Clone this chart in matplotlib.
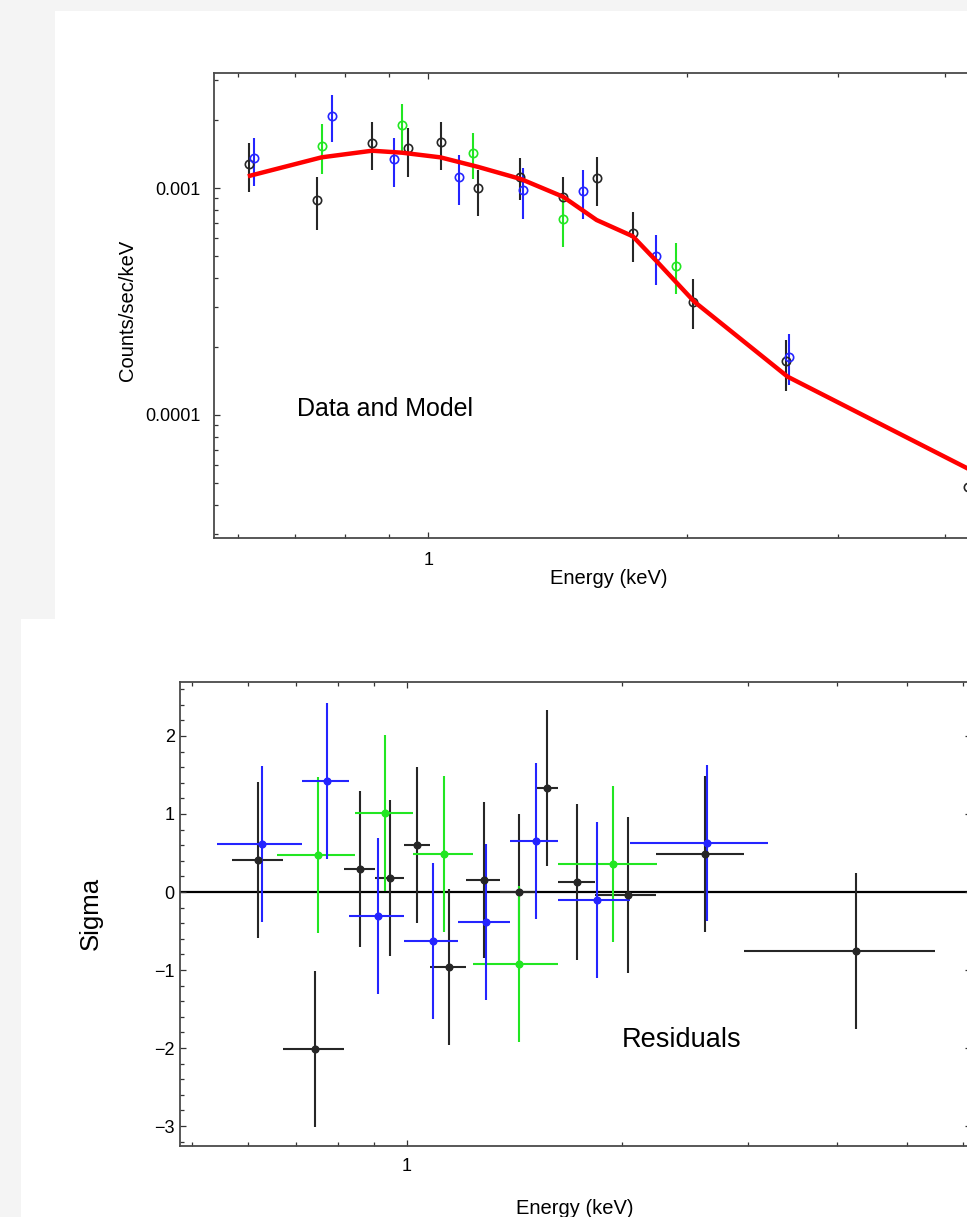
import numpy as np
import matplotlib
matplotlib.use("Agg")
import matplotlib.pyplot as plt
from matplotlib.patches import Rectangle
from matplotlib.ticker import FixedLocator, FuncFormatter, NullFormatter, LogLocator, MultipleLocator

plt.rcParams['font.family'] = ['Liberation Sans', 'DejaVu Sans']

# ---- spectrum (top panel) ----
blk_e = [0.619, 0.7425, 0.860, 0.948, 1.034, 1.143, 1.280, 1.435, 1.570, 1.730, 2.035, 2.608, 4.25]
blk_c = [1.272e-3, 8.855e-4, 1.583e-3, 1.496e-3, 1.594e-3, 9.97e-4, 1.121e-3, 9.155e-4, 1.110e-3, 6.355e-4, 3.157e-4, 1.729e-4, 4.83e-5]
blk_lo = [9.574e-4, 6.53e-4, 1.200e-3, 1.121e-3, 1.200e-3, 7.526e-4, 8.855e-4, 7.472e-4, 8.333e-4, 4.735e-4, 2.385e-4, 1.279e-4, 3.8e-5]
blk_hi = [1.583e-3, 1.115e-3, 1.959e-3, 1.844e-3, 1.959e-3, 1.200e-3, 1.360e-3, 1.121e-3, 1.374e-3, 7.86e-4, 3.962e-4, 2.140e-4, 6.0e-5]

blu_e = [0.627, 0.772, 0.911, 1.086, 1.288, 1.514, 1.841, 2.630]
blu_c = [1.351e-3, 2.082e-3, 1.338e-3, 1.121e-3, 9.80e-4, 9.70e-4, 5.017e-4, 1.806e-4]
blu_lo = [1.024e-3, 1.600e-3, 1.013e-3, 8.416e-4, 7.28e-4, 7.28e-4, 3.738e-4, 1.356e-4]
blu_hi = [1.655e-3, 2.569e-3, 1.655e-3, 1.398e-3, 1.221e-3, 1.200e-3, 6.21e-4, 2.274e-4]

grn_e = [0.751, 0.932, 1.128, 1.435, 1.940]
grn_c = [1.536e-3, 1.894e-3, 1.427e-3, 7.30e-4, 4.546e-4]
grn_lo = [1.149e-3, 1.460e-3, 1.092e-3, 5.51e-4, 3.402e-4]
grn_hi = [1.91e-3, 2.338e-3, 1.752e-3, 9.155e-4, 5.707e-4]

model_e = [0.62, 0.751, 0.86, 0.932, 1.033, 1.141, 1.282, 1.435, 1.57, 1.73, 1.845, 2.04, 2.62, 4.25]
model_c = [1.133e-3, 1.365e-3, 1.46e-3, 1.431e-3, 1.365e-3, 1.241e-3, 1.095e-3, 9.155e-4, 7.23e-4, 6.13e-4, 4.75e-4, 3.157e-4, 1.475e-4, 5.80e-5]

# ---- residuals (bottom panel) ----
blk_res = [0.41, -2.01, 0.30, 0.18, 0.60, -0.96, 0.15, 0.0, 1.33, 0.13, -0.04, 0.49, -0.75]
blk_edges = [0.570, 0.671, 0.817, 0.903, 0.990, 1.078, 1.208, 1.350, 1.508, 1.627, 1.830, 2.233, 2.965, 5.476]
blu_res = [0.61, 1.42, -0.31, -0.63, -0.39, 0.66, -0.10, 0.63]
blu_edges = [0.542, 0.714, 0.829, 0.991, 1.180, 1.393, 1.626, 2.050, 3.195]
grn_res = [0.47, 1.01, 0.49, -0.92, 0.36]
grn_edges = [0.657, 0.845, 1.020, 1.235, 1.628, 2.235]

BLACK = '#262626'
BLUE = '#2424ff'
GREEN = '#22e622'
RED = '#ff0000'

W, H = 967, 1217


def fx(px):
    return px / W


def fy(py):
    return 1 - py / H


def axes_px(left, top, right, bottom):
    return fig.add_axes([fx(left), fy(bottom), (right - left) / W, (bottom - top) / H])


def style_axes(ax, ypad):
    for s in ax.spines.values():
        s.set_color('#4a4a4a')
        s.set_linewidth(1.3)
    ax.tick_params(which='both', direction='in', top=True, right=True,
                   color='#333333', width=0.9, labelsize=13)
    ax.tick_params(which='major', length=4.5)
    ax.tick_params(which='minor', length=2.6)
    ax.tick_params(axis='y', pad=ypad)


fig = plt.figure(figsize=(W / 100, H / 100), dpi=100)
fig.patch.set_facecolor('#f4f4f4')
fig.add_artist(Rectangle((fx(55), fy(619)), (W - 55) / W, (619 - 11) / H,
                         transform=fig.transFigure, facecolor='white', edgecolor='none', zorder=-5))
fig.add_artist(Rectangle((fx(21), 0), (W - 21) / W, (H - 619) / H,
                         transform=fig.transFigure, facecolor='white', edgecolor='none', zorder=-5))

# top panel: data and model
ax1 = axes_px(213.5, 72.7, 1204, 537.7)
ax1.set_xscale('log')
ax1.set_yscale('log')
ax1.set_xlim(0.5622, 8.0)
ax1.set_ylim(2.88e-5, 3.222e-3)

for e, c, lo, hi, col in [(blk_e, blk_c, blk_lo, blk_hi, BLACK),
                          (grn_e, grn_c, grn_lo, grn_hi, GREEN),
                          (blu_e, blu_c, blu_lo, blu_hi, BLUE)]:
    c = np.array(c)
    err = [c - np.array(lo), np.array(hi) - c]
    ax1.errorbar(e, c, yerr=err, fmt='o', ms=6, mfc='none', mec=col, mew=1.2,
                 color=col, elinewidth=1.5, capsize=0, zorder=2)

ax1.plot(model_e, model_c, color=RED, lw=3.2, zorder=4, solid_joinstyle='round')

ax1.xaxis.set_major_locator(FixedLocator([1, 10]))
ax1.xaxis.set_major_formatter(FuncFormatter(lambda v, p: '%g' % v))
ax1.xaxis.set_minor_locator(LogLocator(base=10, subs=np.arange(2, 10), numticks=20))
ax1.xaxis.set_minor_formatter(NullFormatter())
ax1.yaxis.set_major_locator(FixedLocator([1e-4, 1e-3]))
ax1.yaxis.set_major_formatter(FuncFormatter(lambda v, p: '0.0001' if v < 5e-4 else '0.001'))
ax1.yaxis.set_minor_locator(LogLocator(base=10, subs=np.arange(2, 10), numticks=20))
ax1.yaxis.set_minor_formatter(NullFormatter())
style_axes(ax1, 9)
ax1.tick_params(axis='x', pad=10.5)

# bottom panel: residuals
ax2 = axes_px(179.5, 681.7, 971, 1146.3)
ax2.set_xscale('log')
ax2.set_xlim(0.4806, 6.15)
ax2.set_ylim(-3.26, 2.696)
ax2.axhline(0, color='black', lw=1.6, zorder=1)

for e, r, edges, col in [(blk_e, blk_res, blk_edges, BLACK),
                         (grn_e, grn_res, grn_edges, GREEN),
                         (blu_e, blu_res, blu_edges, BLUE)]:
    e = np.array(e)
    edges = np.array(edges)
    xerr = [e - edges[:-1], edges[1:] - e]
    ax2.errorbar(e, r, xerr=xerr, yerr=1.0, fmt='o', ms=4.8, mfc=col, mec=col,
                 color=col, elinewidth=1.5, capsize=0, zorder=2)

ax2.xaxis.set_major_locator(FixedLocator([1, 10]))
ax2.xaxis.set_major_formatter(FuncFormatter(lambda v, p: '%g' % v))
ax2.xaxis.set_minor_locator(LogLocator(base=10, subs=np.arange(2, 10), numticks=20))
ax2.xaxis.set_minor_formatter(NullFormatter())
ax2.yaxis.set_major_locator(MultipleLocator(1))
ax2.yaxis.set_minor_locator(MultipleLocator(0.2))
style_axes(ax2, 3.5)
ax2.tick_params(axis='x', pad=8.5)

# labels
fig.text(fx(128), fy(310), 'Counts/sec/keV', rotation=90, ha='center', va='center', fontsize=14.5)
fig.text(fx(609), fy(578), 'Energy (keV)', ha='center', va='center', fontsize=14.5)
fig.text(fx(297), fy(416), 'Data and Model', ha='left', va='baseline', fontsize=18)
fig.text(fx(91), fy(913), 'Sigma', rotation=90, ha='center', va='center', fontsize=18.5)
fig.text(fx(575), fy(1208), 'Energy (keV)', ha='center', va='center', fontsize=14.5)
fig.text(fx(622), fy(1047), 'Residuals', ha='left', va='baseline', fontsize=19.5)

fig.savefig('out.png', dpi=100)
